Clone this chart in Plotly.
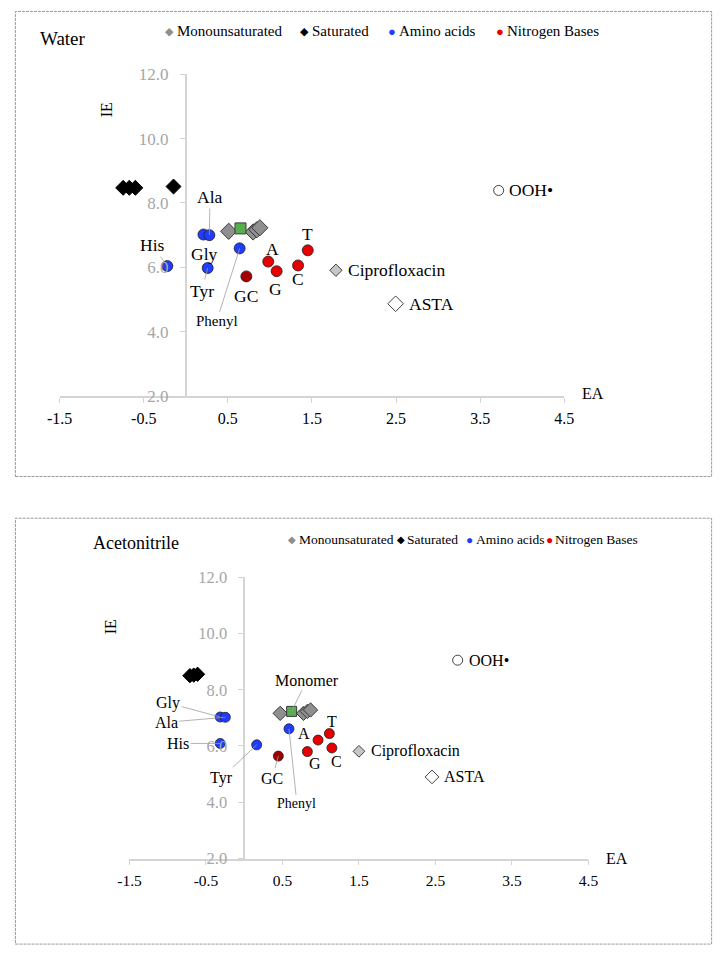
import plotly.graph_objects as go

W, H = 725, 958

# ---------------- axis ticks ----------------
x_tick_vals = [-1.5, -0.5, 0.5, 1.5, 2.5, 3.5, 4.5]
x_tick_text = ["-1.5", "-0.5", "0.5", "1.5", "2.5", "3.5", "4.5"]
y_tick_vals = [2, 4, 6, 8, 10, 12]
y_tick_text = ["2.0", "4.0", "6.0", "8.0", "10.0", "12.0"]

# ---------------- Water panel data (EA, IE) ----------------
water_mono_ea = [0.51, 0.80, 0.845, 0.88]
water_mono_ie = [7.12, 7.10, 7.17, 7.23]
water_monomer_ea = [0.65]
water_monomer_ie = [7.21]
water_sat_ea = [-0.745, -0.672, -0.60, -0.146]
water_sat_ie = [8.47, 8.47, 8.47, 8.51]
water_amino_names = ["Gly", "Ala", "His", "Tyr", "Phenyl"]
water_amino_ea = [0.21, 0.28, -0.22, 0.26, 0.64]
water_amino_ie = [7.02, 7.00, 6.04, 5.98, 6.59]
water_base_names = ["A", "G", "C", "T"]
water_base_ea = [0.98, 1.08, 1.335, 1.45]
water_base_ie = [6.18, 5.88, 6.06, 6.53]
water_gc_ea = [0.72]
water_gc_ie = [5.72]
water_cipro_ea = [1.785]
water_cipro_ie = [5.91]
water_asta_ea = [2.495]
water_asta_ie = [4.87]
water_ooh_ea = [3.72]
water_ooh_ie = [8.39]

# ---------------- Acetonitrile panel data (EA, IE) ----------------
acn_mono_ea = [0.47, 0.775, 0.825, 0.867]
acn_mono_ie = [7.16, 7.16, 7.23, 7.28]
acn_monomer_ea = [0.62]
acn_monomer_ie = [7.23]
acn_sat_ea = [-0.71, -0.66, -0.61]
acn_sat_ie = [8.50, 8.52, 8.55]
acn_amino_names = ["Gly", "Ala", "His", "Tyr", "Phenyl"]
acn_amino_ea = [-0.314, -0.247, -0.314, 0.163, 0.585]
acn_amino_ie = [7.03, 7.02, 6.09, 6.04, 6.61]
acn_base_names = ["A", "G", "C", "T"]
acn_base_ea = [0.965, 0.825, 1.146, 1.113]
acn_base_ie = [6.21, 5.80, 5.93, 6.44]
acn_gc_ea = [0.446]
acn_gc_ie = [5.64]
acn_cipro_ea = [1.50]
acn_cipro_ie = [5.81]
acn_asta_ea = [2.455]
acn_asta_ie = [4.90]
acn_ooh_ea = [2.79]
acn_ooh_ie = [9.05]

legend_names = ["Monounsaturated", "Saturated", "Amino acids", "Nitrogen Bases"]

FONT = "Liberation Serif, Times New Roman, serif"
C_MONO = "#8f8f8f"
C_SAT = "#000000"
C_AMINO = "#1f3cff"
C_BASE = "#e60000"
C_GC = "#a00000"
C_GREEN = "#5aad4e"
C_CIPRO = "#c6c6c6"
EDGE = "#3a3a3a"
AXIS_C = "#d4d4d4"


def px2x(p):
    return p / W


def px2y(p):
    return 1 - p / H


fig = go.Figure()


def add_panel(xa, ya, d, sz):
    def sc(x, y, symbol, size, color, lc=EDGE, lw=1):
        fig.add_trace(go.Scatter(
            x=x, y=y, mode="markers", xaxis=xa, yaxis=ya, showlegend=False,
            hoverinfo="skip", cliponaxis=False,
            marker=dict(symbol=symbol, size=size, color=color,
                        line=dict(color=lc, width=lw))))
    sc(d["sat_ea"], d["sat_ie"], "diamond", sz["sat"], C_SAT, C_SAT, 1)
    sc(d["mono_ea"], d["mono_ie"], "diamond", sz["mono"], C_MONO)
    sc(d["monomer_ea"], d["monomer_ie"], "square", sz["sq"], C_GREEN)
    sc(d["amino_ea"], d["amino_ie"], "circle", sz["circ"], C_AMINO, "#202020", 0.8)
    sc(d["base_ea"], d["base_ie"], "circle", sz["circ"], C_BASE, "#202020", 0.8)
    sc(d["gc_ea"], d["gc_ie"], "circle", sz["circ"], C_GC, "#202020", 0.8)
    sc(d["cipro_ea"], d["cipro_ie"], "diamond", sz["cipro"], C_CIPRO, "#404040", 1)
    sc(d["asta_ea"], d["asta_ie"], "diamond", sz["asta"], "white", "#404040", 1)
    sc(d["ooh_ea"], d["ooh_ie"], "circle", sz["ooh"], "white", "#404040", 1)


water = dict(mono_ea=water_mono_ea, mono_ie=water_mono_ie,
             monomer_ea=water_monomer_ea, monomer_ie=water_monomer_ie,
             sat_ea=water_sat_ea, sat_ie=water_sat_ie,
             amino_ea=water_amino_ea, amino_ie=water_amino_ie,
             base_ea=water_base_ea, base_ie=water_base_ie,
             gc_ea=water_gc_ea, gc_ie=water_gc_ie,
             cipro_ea=water_cipro_ea, cipro_ie=water_cipro_ie,
             asta_ea=water_asta_ea, asta_ie=water_asta_ie,
             ooh_ea=water_ooh_ea, ooh_ie=water_ooh_ie)
acn = dict(mono_ea=acn_mono_ea, mono_ie=acn_mono_ie,
           monomer_ea=acn_monomer_ea, monomer_ie=acn_monomer_ie,
           sat_ea=acn_sat_ea, sat_ie=acn_sat_ie,
           amino_ea=acn_amino_ea, amino_ie=acn_amino_ie,
           base_ea=acn_base_ea, base_ie=acn_base_ie,
           gc_ea=acn_gc_ea, gc_ie=acn_gc_ie,
           cipro_ea=acn_cipro_ea, cipro_ie=acn_cipro_ie,
           asta_ea=acn_asta_ea, asta_ie=acn_asta_ie,
           ooh_ea=acn_ooh_ea, ooh_ie=acn_ooh_ie)

add_panel("x", "y", water, dict(sat=11.5, mono=12.5, sq=11, circ=11, cipro=9.5, asta=12, ooh=10))
add_panel("x2", "y2", acn, dict(sat=11, mono=11, sq=10, circ=10, cipro=9, asta=10.5, ooh=10))

annotations = []


def point_labels(d, amino_names, base_names, offsets, xref, yref, fs, fs_small):
    pts = {}
    for n, x, y in zip(amino_names, d["amino_ea"], d["amino_ie"]):
        pts[n] = (x, y)
    for n, x, y in zip(base_names, d["base_ea"], d["base_ie"]):
        pts[n] = (x, y)
    pts["GC"] = (d["gc_ea"][0], d["gc_ie"][0])
    pts["Monomer"] = (d["monomer_ea"][0], d["monomer_ie"][0])
    pts["Ciprofloxacin"] = (d["cipro_ea"][0], d["cipro_ie"][0])
    pts["ASTA"] = (d["asta_ea"][0], d["asta_ie"][0])
    pts["OOH•"] = (d["ooh_ea"][0], d["ooh_ie"][0])
    for name, (ax, ay, line) in offsets.items():
        x, y = pts[name]
        annotations.append(dict(
            x=x, y=y, xref=xref, yref=yref, text=name, showarrow=True,
            ax=ax, ay=ay, arrowhead=0, arrowwidth=0.8, standoff=0,
            arrowcolor="#a0a0a0" if line else "rgba(0,0,0,0)",
            font=dict(family=FONT, size=fs_small if name == "Phenyl" else fs, color="black")))


water_offsets = {
    "Gly": (1, 19, False), "Ala": (0.6, -38, True), "His": (-15, -21, True),
    "Tyr": (-6, 23, True), "Phenyl": (-23, 73, True), "GC": (0, 20, False),
    "A": (4, -13, False), "G": (-1, 18, False), "C": (0, 14, False), "T": (0, -16, False),
    "Ciprofloxacin": (61, 0, False), "ASTA": (35.5, 0, False), "OOH•": (32, 0, False),
}
acn_offsets = {
    "Gly": (-52, -14, True), "Ala": (-59, 5, True), "His": (-42, 0, True),
    "Tyr": (-35, 33, True), "Phenyl": (8, 75, True), "GC": (-6, 22, True),
    "Monomer": (15, -31, True),
    "A": (-14, -7, False), "G": (8, 12, False), "C": (5, 14, False), "T": (3, -12, False),
    "Ciprofloxacin": (57, 0, False), "ASTA": (32, 0, False), "OOH•": (31, 0, False),
}
point_labels(water, water_amino_names, water_base_names, water_offsets, "x", "y", 17.5, 15)
point_labels(acn, acn_amino_names, acn_base_names, acn_offsets, "x2", "y2", 16, 14)


def ptext(text, x, y, size, xanchor="center", angle=0, color="black"):
    annotations.append(dict(text=text, x=px2x(x), y=px2y(y), xref="paper", yref="paper",
                            xanchor=xanchor, yanchor="middle", showarrow=False, textangle=angle,
                            borderpad=0,
                            font=dict(family=FONT, size=size, color=color)))


# panel titles and axis titles
ptext("Water", 27, 30, 19, "left")
ptext("Acetonitrile", 82, 545, 18, "left")
ptext("IE", 97.5, 103, 16, angle=-90)
ptext("EA", 599, 392, 16)
ptext("IE", 101, 630, 16, angle=-90)
ptext("EA", 624, 867, 16)

# legends (glyph + text)
glyphs = [("◆", C_MONO, 11), ("◆", C_SAT, 11), ("●", C_AMINO, 13), ("●", C_BASE, 13)]
top_leg_sym = [162, 301, 391, 503]
top_leg_txt = [168, 308, 398, 509]
bot_leg_sym = [288, 401, 471, 554]
bot_leg_txt = [294, 406, 477, 559]
for (g, c, s), sx, tx, name in zip(glyphs, top_leg_sym, top_leg_txt, legend_names):
    ptext(g, sx, 22.7, s, "center", color=c)
    ptext(name, tx, 22.7, 15, "left")
for (g, c, s), sx, tx, name in zip(glyphs, bot_leg_sym, bot_leg_txt, legend_names):
    ptext(g, sx, 541.7, s - 1, "center", color=c)
    ptext(name, tx, 541.7, 13.5, "left")

# dashed frames
shapes = []
for (x0, y0, x1, y1) in [(2.5, 2.5, 721.5, 477), (2.5, 519.5, 721.5, 954)]:
    shapes.append(dict(type="rect", xref="paper", yref="paper",
                       x0=px2x(x0), x1=px2x(x1), y0=px2y(y1), y1=px2y(y0),
                       line=dict(color="#9a9a9a", width=1, dash="3px,1px"),
                       fillcolor="rgba(0,0,0,0)"))


def xaxis_cfg(dom, anchor, fs):
    return dict(domain=dom, range=[-1.5, 4.5], anchor=anchor, tickmode="array",
                tickvals=x_tick_vals, ticktext=x_tick_text, showgrid=False, zeroline=False,
                showline=True, linecolor=AXIS_C, linewidth=1.5, ticks="outside", ticklen=5,
                tickcolor=AXIS_C, tickwidth=1, ticklabelstandoff=2,
                tickfont=dict(family=FONT, size=fs, color="black"), fixedrange=True)


def yaxis_cfg(dom, pos, fs):
    return dict(domain=dom, range=[2, 12], anchor="free", position=pos, tickmode="array",
                tickvals=y_tick_vals, ticktext=y_tick_text, showgrid=False, zeroline=False,
                showline=True, linecolor=AXIS_C, linewidth=1.5, ticks="outside", ticklen=5,
                tickcolor=AXIS_C, tickwidth=1, ticklabelstandoff=8,
                tickfont=dict(family=FONT, size=fs, color="#a6a6a6"), fixedrange=True)


fig.update_layout(
    width=W, height=H, autosize=False,
    margin=dict(l=0, r=0, t=0, b=0, pad=0),
    paper_bgcolor="white", plot_bgcolor="rgba(0,0,0,0)",
    showlegend=False,
    font=dict(family=FONT, color="black"),
    xaxis=xaxis_cfg([48.2 / W, 569.3 / W], "y", 16),
    yaxis=yaxis_cfg([px2y(395), px2y(66.5)], 178.4 / W, 17),
    xaxis2=xaxis_cfg([120.3 / W, 594.3 / W], "y2", 15.5),
    yaxis2=yaxis_cfg([px2y(866.7), px2y(579.7)], 238.8 / W, 16.5),
    annotations=annotations,
    shapes=shapes,
)

fig.write_html("out.html")
